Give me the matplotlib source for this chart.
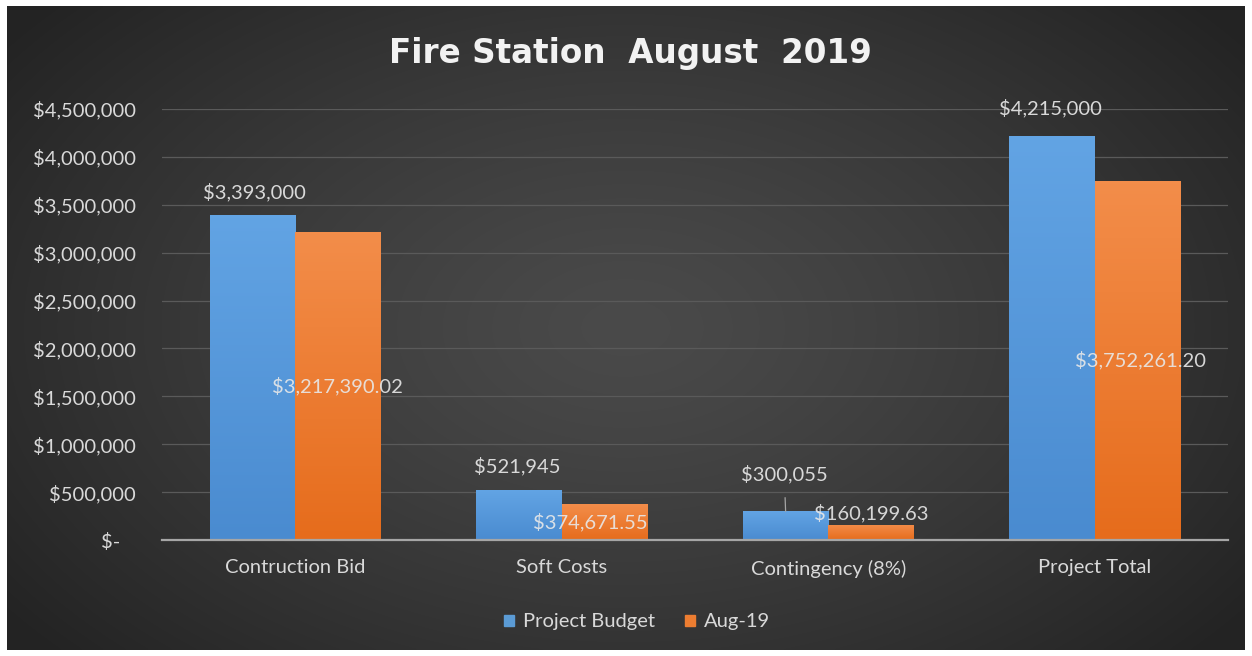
import numpy as np
import matplotlib.pyplot as plt
from matplotlib.patches import Patch

# data
categories = ['Contruction Bid', 'Soft Costs', 'Contingency (8%)', 'Project Total']
budget = [3393000, 521945, 300055, 4215000]
aug19 = [3217390.02, 374671.55, 160199.63, 3752261.20]
series_names = ['Project Budget', 'Aug-19']
title = 'Fire Station  August  2019'

plt.rcParams['font.family'] = ['Lato', 'DejaVu Sans']
FS = 14.5

fig = plt.figure(figsize=(12.52, 6.56), dpi=100)
fig.patch.set_facecolor('white')

# dark radial-gradient panel behind the chart
W, H = 1252, 656
bg = fig.add_axes([7 / W, 6 / H, (1245 - 7) / W, (650 - 6) / H])
yy, xx = np.mgrid[0:1:300j, 0:1:600j]
r = np.sqrt(((xx - 0.5) / 0.62) ** 2 + ((yy - 0.5) / 0.75) ** 2)
r = np.clip(r, 0, 1)
shade = 0.29 - 0.15 * r ** 1.3
bg.imshow(np.dstack([shade] * 3), aspect='auto', extent=(0, 1, 0, 1), interpolation='bicubic')
bg.set_axis_off()

ax = fig.add_axes([162 / W, 116 / H, (1228 - 162) / W, (540 - 109) / H])
ax.set_facecolor('none')

x = np.arange(len(categories))
w = 0.32
blue_bars = ax.bar(x - w / 2, budget, w, color='#5b9bd5', zorder=3)
orange_bars = ax.bar(x + w / 2, aug19, w, color='#ed7d31', zorder=3)


def shade_bars(bars, top, bottom):
    grad = np.linspace(0, 1, 100).reshape(-1, 1)
    c1 = np.array(plt.matplotlib.colors.to_rgb(top))
    c2 = np.array(plt.matplotlib.colors.to_rgb(bottom))
    img = (1 - grad)[..., None] * c1 + grad[..., None] * c2
    for b in bars:
        x0, y0 = b.get_x(), b.get_y()
        im = ax.imshow(img, aspect='auto', extent=(x0, x0 + b.get_width(), y0, y0 + b.get_height()),
                       zorder=3.5, origin='upper')
        im.set_clip_path(b)


shade_bars(blue_bars, '#62a4e4', '#4a8bd0')
shade_bars(orange_bars, '#f38d4a', '#e66c1c')

ax.set_xlim(-0.5, len(categories) - 0.5)
ax.set_ylim(0, 4500000)
ax.set_aspect('auto')
ticks = np.arange(0, 4500001, 500000)
ax.set_yticks(ticks)
ax.set_yticklabels(['$-   '] + [f'${t:,.0f}' for t in ticks[1:]])
ax.set_xticks(x)
ax.set_xticklabels(categories)
ax.tick_params(axis='y', length=0, pad=19, labelsize=FS, labelcolor='#d9d9d9')
ax.tick_params(axis='x', length=0, pad=14, labelsize=FS, labelcolor='#d9d9d9')
ax.grid(axis='y', color='#5a5a5a', linewidth=0.9, zorder=0)
for s in ['top', 'right', 'left']:
    ax.spines[s].set_visible(False)
ax.spines['bottom'].set_color('#a6a6a6')
ax.spines['bottom'].set_linewidth(1.6)
ax.spines['bottom'].set_zorder(5)

# data labels: budget above bars, aug-19 near bar middle
blue_offsets = [(1, 16.5), (-1, 17), (-1, 26.5), (-1, 20)]
for i, v in enumerate(budget):
    dx, dy = blue_offsets[i]
    arrow = dict(arrowstyle='-', color='#a6a6a6', lw=0.9, shrinkA=8, shrinkB=0) if i == 2 else None
    ax.annotate(f'${v:,.0f}', (x[i] - w / 2, v), xytext=(dx, dy), textcoords='offset points',
                ha='center', va='center', fontsize=FS, color='#d9d9d9', zorder=6,
                arrowprops=arrow)
orange_offsets = [(0, 0), (-10, 0), (0, 14), (2, 0)]
for i, v in enumerate(aug19):
    dx, dy = orange_offsets[i]
    ax.annotate(f'${v:,.2f}', (x[i] + w / 2, v / 2), xytext=(dx, dy), textcoords='offset points',
                ha='center', va='center', fontsize=FS, color='#e8e8e8', alpha=0.9, zorder=6)

fig.text(630 / W, 1 - 54 / H, title, ha='center', va='center', fontsize=23.5, fontweight='bold',
         color='#f2f2f2', family=['DejaVu Sans'])

handles = [Patch(color='#5b9bd5'), Patch(color='#ed7d31')]
fig.legend(handles, series_names, loc='center', bbox_to_anchor=(637 / W, 1 - 622 / H), ncol=2,
           frameon=False, handlelength=0.5, handleheight=0.5, handletextpad=0.45, columnspacing=1.5,
           labelcolor='#d9d9d9', fontsize=FS)

fig.savefig('out.png', dpi=100, facecolor=fig.get_facecolor())
